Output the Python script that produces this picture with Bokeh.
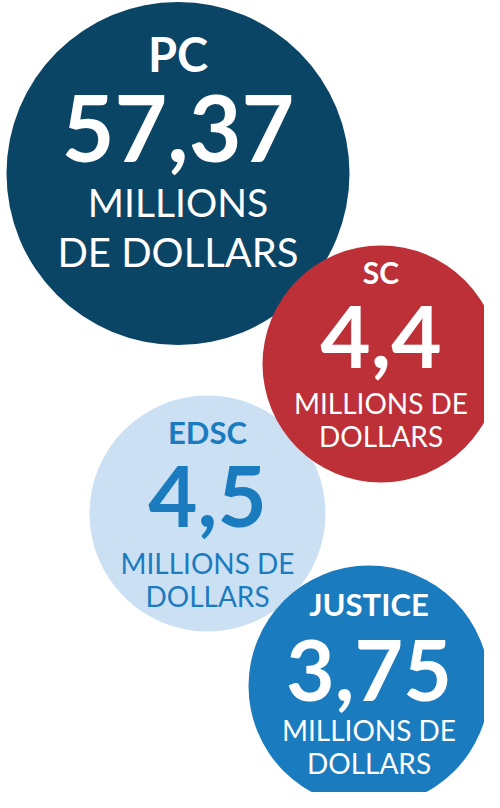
from bokeh.plotting import figure
from bokeh.models import Range1d
from bokeh.core.properties import value
from bokeh.embed import file_html
from bokeh.resources import INLINE

# ---- data ----
departments = ["PC", "EDSC", "SC", "JUSTICE"]
amounts = [57.37, 4.5, 4.4, 3.75]
unit_lines = [["MILLIONS", "DE DOLLARS"],
              ["MILLIONS DE", "DOLLARS"],
              ["MILLIONS DE", "DOLLARS"],
              ["MILLIONS DE", "DOLLARS"]]

# ---- layout (reference pixel coordinates) ----
cx = [185.5, 215, 388.5, 376.5]
cy = [181, 521, 371.5, 693.5]
rad = [171.5, 118, 118.5, 120.5]
fill = ["#0b4566", "#cce0f3", "#bd3038", "#1a7bbf"]
txt_col = ["white", "#1a7bbf", "white", "white"]
# vertical centres of the capitals: name, number, line1, line2
name_y = [61, 439, 279, 611.5]
num_y = [135.5, 503.5, 344.5, 678]
l1_y = [209, 570, 410, 737.5]
l2_y = [259, 603, 443, 770]
name_fs = [47, 31, 30, 31]
num_fs = [91, 85, 87, 84]
l1_fs = [39, 28, 28, 28]
l2_fs = [40, 28, 28, 28]

FONT = "Lato"

p = figure(width=484, height=792, output_backend="svg", toolbar_location=None,
           x_range=Range1d(8, 492), y_range=Range1d(800, 8),
           min_border=0, outline_line_color=None, background_fill_color="white")
p.axis.visible = False
p.grid.visible = False

def fmt(v):
    s = ("%.2f" % v).rstrip("0").rstrip(".")
    return s.replace(".", ",")

for i, d in enumerate(departments):
    p.circle(x=[cx[i]], y=[cy[i]], radius=rad[i], fill_color=fill[i], line_color=None)
    p.text(x=[cx[i]], y=[name_y[i]], text=[d], text_color=txt_col[i],
           text_font=value(FONT), text_font_style="bold",
           text_font_size=f"{name_fs[i]}px", text_align="center", text_baseline="alphabetic")
    p.text(x=[cx[i]], y=[num_y[i]], text=[fmt(amounts[i])], text_color=txt_col[i],
           text_font=value(FONT), text_font_style="bold",
           text_font_size=f"{num_fs[i]}px", text_align="center", text_baseline="alphabetic")
    p.text(x=[cx[i]], y=[l1_y[i]], text=[unit_lines[i][0]], text_color=txt_col[i],
           text_font=value(FONT), text_font_size=f"{l1_fs[i]}px",
           text_align="center", text_baseline="alphabetic")
    p.text(x=[cx[i]], y=[l2_y[i]], text=[unit_lines[i][1]], text_color=txt_col[i],
           text_font=value(FONT), text_font_size=f"{l2_fs[i]}px",
           text_align="center", text_baseline="alphabetic")

open("out.html", "w").write(file_html(p, INLINE))
